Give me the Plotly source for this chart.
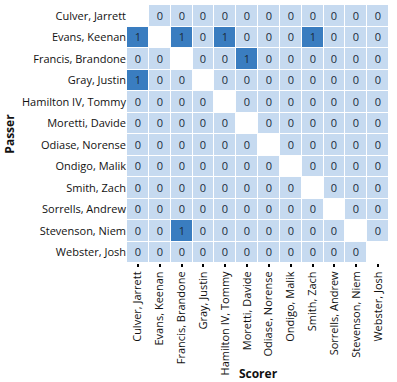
import plotly.graph_objects as go

players = ["Culver, Jarrett", "Evans, Keenan", "Francis, Brandone", "Gray, Justin",
           "Hamilton IV, Tommy", "Moretti, Davide", "Odiase, Norense", "Ondigo, Malik",
           "Smith, Zach", "Sorrells, Andrew", "Stevenson, Niem", "Webster, Josh"]

N = None
assists = [
    [N, 0, 0, 0, 0, 0, 0, 0, 0, 0, 0, 0],
    [1, N, 1, 0, 1, 0, 0, 0, 1, 0, 0, 0],
    [0, 0, N, 0, 0, 1, 0, 0, 0, 0, 0, 0],
    [1, 0, 0, N, 0, 0, 0, 0, 0, 0, 0, 0],
    [0, 0, 0, 0, N, 0, 0, 0, 0, 0, 0, 0],
    [0, 0, 0, 0, 0, N, 0, 0, 0, 0, 0, 0],
    [0, 0, 0, 0, 0, 0, N, 0, 0, 0, 0, 0],
    [0, 0, 0, 0, 0, 0, 0, N, 0, 0, 0, 0],
    [0, 0, 0, 0, 0, 0, 0, 0, N, 0, 0, 0],
    [0, 0, 0, 0, 0, 0, 0, 0, 0, N, 0, 0],
    [0, 0, 1, 0, 0, 0, 0, 0, 0, 0, N, 0],
    [0, 0, 0, 0, 0, 0, 0, 0, 0, 0, 0, N],
]

text = [["" if v is None else str(v) for v in row] for row in assists]

fig = go.Figure(go.Heatmap(
    z=assists, x=players, y=players, text=text, texttemplate="%{text}",
    textfont=dict(family="Open Sans", size=11, color="#1a2a3a"),
    colorscale=[[0, "#c6daf0"], [1, "#3a7dc0"]], zmin=0, zmax=1,
    showscale=False, xgap=1, ygap=1, hoverongaps=False,
))

fig.update_layout(
    width=397, height=382,
    margin=dict(l=127, r=8, t=5, b=119),
    paper_bgcolor="white", plot_bgcolor="white",
    font=dict(family="Open Sans", size=11, color="#111"),
)
fig.update_xaxes(
    tickangle=-90, ticks="outside", ticklen=3, tickcolor="#000", tickwidth=2,
    showgrid=False, zeroline=False, automargin=False,
    title=dict(text="<b>Scorer</b>", font=dict(size=12), standoff=0),
)
fig.update_yaxes(
    autorange="reversed", showgrid=False, zeroline=False, ticks="", automargin=False,
    title=dict(text="<b>Passer</b>", font=dict(size=12), standoff=4),
)

fig.write_html("out.html", config={"displayModeBar": False},
               post_script="document.body.style.margin='0';")
